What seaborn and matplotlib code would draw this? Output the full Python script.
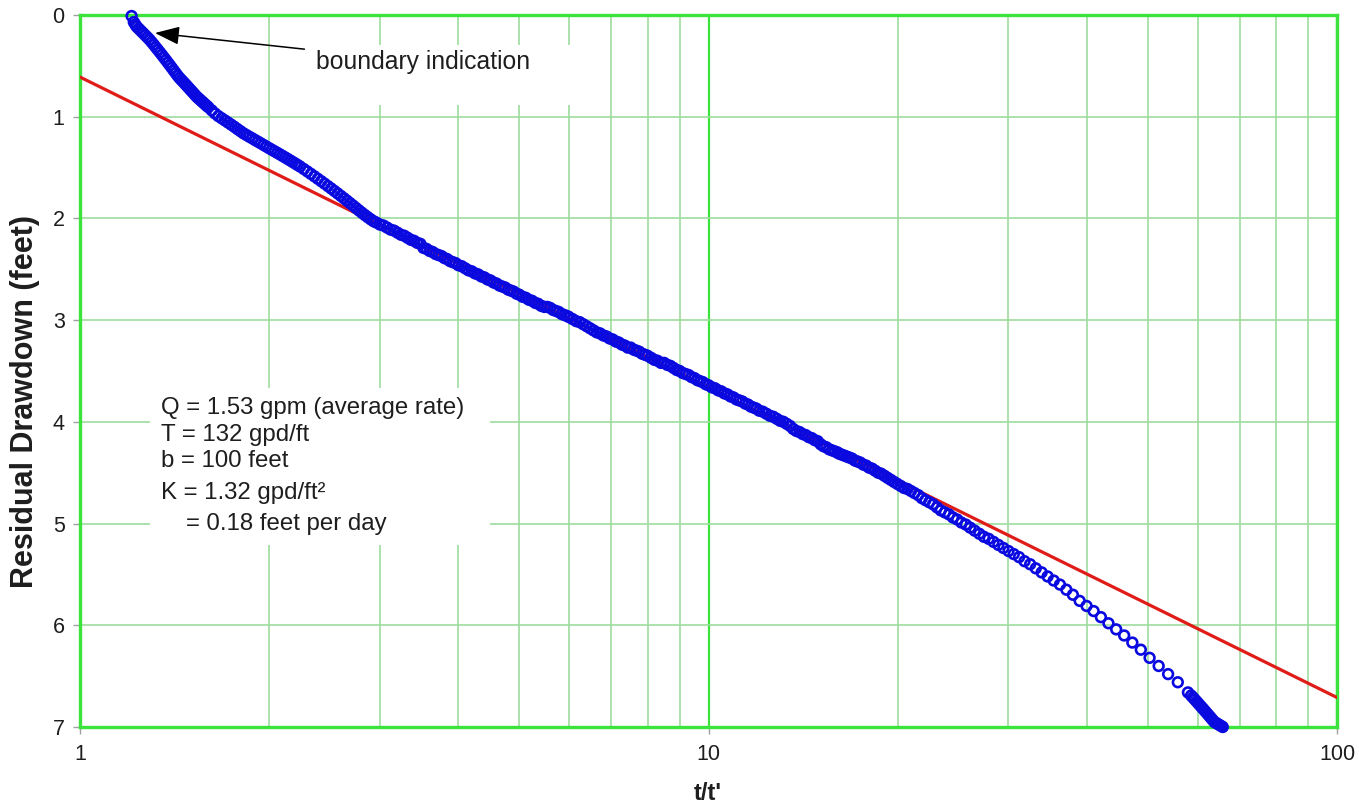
import matplotlib
matplotlib.use("Agg")
import matplotlib.pyplot as plt
import seaborn as sns
from matplotlib.ticker import LogLocator, NullFormatter
from matplotlib.patches import Rectangle

# ---------------- data ----------------
t_ratio = [
    1.208, 1.218, 1.225, 1.231, 1.24, 1.25, 1.26, 1.27, 1.28, 1.29,
    1.30, 1.31, 1.32, 1.33, 1.34, 1.35, 1.36, 1.37, 1.38, 1.39,
    1.40, 1.41, 1.42, 1.43, 1.44, 1.45, 1.46, 1.47, 1.48, 1.49,
    1.50, 1.51, 1.52, 1.53, 1.54, 1.55, 1.56, 1.57, 1.58, 1.59,
    1.60, 1.62, 1.64, 1.66, 1.68, 1.70, 1.72, 1.74, 1.76, 1.78,
    1.80, 1.82, 1.84, 1.86, 1.88, 1.90, 1.92, 1.94, 1.96, 1.98,
    2.00, 2.02, 2.04, 2.06, 2.08, 2.10, 2.12, 2.14, 2.16, 2.18,
    2.20, 2.22, 2.24, 2.27, 2.30, 2.33, 2.36, 2.39, 2.42, 2.45,
    2.48, 2.51, 2.54, 2.57, 2.60, 2.63, 2.66, 2.69, 2.72, 2.75,
    2.78, 2.81, 2.84, 2.87, 2.90, 2.93, 2.96, 3.00,
    3.04, 3.08, 3.12, 3.16, 3.20, 3.24, 3.28, 3.32, 3.36, 3.40,
    3.44, 3.48, 3.52, 3.56, 3.60, 3.64, 3.68, 3.72, 3.76, 3.80,
    3.84, 3.88, 3.92, 3.96, 4.00,
    4.05, 4.10, 4.15, 4.20, 4.25, 4.30, 4.35, 4.40, 4.45, 4.50,
    4.55, 4.60, 4.65, 4.70, 4.75, 4.80, 4.85, 4.90, 4.95, 5.00,
    5.06, 5.12, 5.18, 5.24, 5.30, 5.36, 5.42, 5.48, 5.54, 5.60,
    5.66, 5.72, 5.78, 5.84, 5.90, 5.96, 6.00,
    6.08, 6.16, 6.24, 6.32, 6.40, 6.48, 6.56, 6.64, 6.72, 6.80,
    6.88, 6.96, 7.04, 7.12, 7.20, 7.28, 7.36, 7.44, 7.52, 7.60,
    7.68, 7.76, 7.84, 7.92, 8.00,
    8.1, 8.2, 8.3, 8.4, 8.5, 8.6, 8.7, 8.8, 8.9, 9.0,
    9.1, 9.2, 9.3, 9.4, 9.5, 9.6, 9.7, 9.8, 9.9, 10.0,
    10.12, 10.24, 10.36, 10.48, 10.60, 10.72, 10.84, 10.96, 11.08, 11.20,
    11.32, 11.44, 11.56, 11.68, 11.80, 11.92, 12.04,
    12.2, 12.36, 12.52, 12.68, 12.84, 13.0, 13.16, 13.32, 13.48, 13.64,
    13.80, 13.96, 14.12, 14.28, 14.44, 14.60, 14.76, 14.92, 15.08, 15.24,
    15.40, 15.56, 15.72, 15.88, 16.04,
    16.10, 16.26, 16.42, 16.58, 16.74, 16.91, 17.09, 17.26, 17.44, 17.63,
    17.82, 18.01, 18.21, 18.41, 18.62, 18.83, 19.05, 19.27, 19.50, 19.73,
    19.97, 20.22, 20.47, 20.73, 21.00, 21.27, 21.56, 21.85, 22.14, 22.45,
    22.76, 23.09, 23.42, 23.77, 24.13, 24.49, 24.87, 25.26, 25.67, 26.08,
    26.52, 26.97, 27.43, 27.91, 28.41, 28.92, 29.46, 30.02, 30.60, 31.20,
    31.83, 32.49, 33.17, 33.89, 34.64, 35.42, 36.24, 37.10, 38.00, 38.95,
    39.95, 41.00, 42.11, 43.29, 44.53, 45.85, 47.25, 48.74, 50.33, 52.03,
    53.86, 55.81, 57.92,
    58.6, 59.0, 59.4, 59.8, 60.2, 60.6, 61.0, 61.4, 61.8, 62.2,
    62.6, 63.0, 63.4, 63.8, 64.2, 64.6, 65.0, 65.4, 65.8,
]
drawdown_ft = [
    0.01, 0.07, 0.095, 0.115, 0.134, 0.156, 0.177, 0.199, 0.22, 0.242,
    0.266, 0.291, 0.317, 0.342, 0.367, 0.392, 0.418, 0.443, 0.469, 0.494,
    0.52, 0.546, 0.571, 0.597, 0.619, 0.639, 0.658, 0.678, 0.698, 0.718,
    0.738, 0.757, 0.777, 0.797, 0.814, 0.829, 0.845, 0.86, 0.876, 0.891,
    0.906, 0.937, 0.968, 0.994, 1.015, 1.036, 1.057, 1.078, 1.099, 1.121,
    1.142, 1.163, 1.18, 1.197, 1.213, 1.23, 1.246, 1.262, 1.278, 1.294,
    1.31, 1.325, 1.34, 1.355, 1.37, 1.385, 1.40, 1.415, 1.43, 1.445,
    1.46, 1.475, 1.49, 1.514, 1.538, 1.562, 1.586, 1.61, 1.634, 1.658,
    1.682, 1.706, 1.73, 1.754, 1.778, 1.802, 1.826, 1.85, 1.874, 1.898,
    1.922, 1.945, 1.967, 1.988, 2.008, 2.027, 2.04, 2.06,
    2.07, 2.09, 2.11, 2.12, 2.14, 2.16, 2.17, 2.19, 2.21, 2.22,
    2.24, 2.25, 2.29, 2.30, 2.32, 2.33, 2.35, 2.36, 2.37, 2.39,
    2.40, 2.42, 2.43, 2.44, 2.46,
    2.47, 2.49, 2.51, 2.52, 2.54, 2.55, 2.57, 2.58, 2.60, 2.61,
    2.63, 2.64, 2.66, 2.67, 2.68, 2.70, 2.71, 2.72, 2.74, 2.75,
    2.77, 2.78, 2.80, 2.81, 2.83, 2.84, 2.86, 2.87, 2.87, 2.88,
    2.90, 2.91, 2.92, 2.94, 2.95, 2.96, 2.97,
    2.99, 3.01, 3.02, 3.04, 3.06, 3.08, 3.10, 3.12, 3.13, 3.15,
    3.16, 3.18, 3.19, 3.21, 3.22, 3.24, 3.25, 3.27, 3.27, 3.29,
    3.30, 3.31, 3.33, 3.34, 3.35,
    3.37, 3.39, 3.40, 3.42, 3.42, 3.44, 3.45, 3.47, 3.49, 3.50,
    3.52, 3.53, 3.54, 3.56, 3.57, 3.59, 3.60, 3.61, 3.63, 3.64,
    3.66, 3.67, 3.69, 3.70, 3.72, 3.73, 3.75, 3.76, 3.78, 3.79,
    3.80, 3.82, 3.83, 3.85, 3.86, 3.87, 3.89,
    3.90, 3.92, 3.94, 3.95, 3.97, 3.99, 4.00, 4.02, 4.04, 4.07,
    4.09, 4.10, 4.12, 4.13, 4.15, 4.16, 4.18, 4.19, 4.22, 4.24,
    4.25, 4.27, 4.28, 4.29, 4.30,
    4.31, 4.32, 4.33, 4.34, 4.35, 4.36, 4.38, 4.39, 4.40, 4.42,
    4.43, 4.45, 4.46, 4.48, 4.50, 4.51, 4.53, 4.55, 4.57, 4.59,
    4.61, 4.63, 4.65, 4.66, 4.68, 4.70, 4.72, 4.75, 4.77, 4.79,
    4.81, 4.84, 4.87, 4.89, 4.91, 4.94, 4.96, 4.99, 5.01, 5.04,
    5.07, 5.10, 5.13, 5.15, 5.18, 5.21, 5.24, 5.27, 5.30, 5.33,
    5.37, 5.40, 5.44, 5.48, 5.52, 5.56, 5.60, 5.65, 5.70, 5.76,
    5.81, 5.86, 5.92, 5.98, 6.04, 6.10, 6.17, 6.24, 6.32, 6.40,
    6.48, 6.56, 6.66,
    6.69, 6.71, 6.73, 6.75, 6.77, 6.79, 6.81, 6.83, 6.85, 6.87,
    6.89, 6.91, 6.93, 6.95, 6.96, 6.97, 6.98, 6.99, 7.00,
]

fit_t_ratio = [1, 100]
fit_drawdown = [0.61, 6.71]

x_ticks = [1, 10, 100]
x_tick_labels = ["1", "10", "100"]
y_ticks = [0, 1, 2, 3, 4, 5, 6, 7]
y_tick_labels = ["0", "1", "2", "3", "4", "5", "6", "7"]

x_label = "t/t'"
y_label = "Residual Drawdown (feet)"
param_lines = [
    "Q = 1.53 gpm (average rate)",
    "T = 132 gpd/ft",
    "b = 100 feet",
    "K = 1.32 gpd/ft\u00b2",
    "= 0.18 feet per day",
]
boundary_text = "boundary indication"
boundary_target = (1.316, 0.177)

# ---------------- style ----------------
sns.set_style("white")
plt.rcParams["font.family"] = ["Liberation Sans", "DejaVu Sans"]

W, H = 1359, 810
BLUE = "#0a0ae0"
RED = "#e01c18"
GREEN = "#3de33d"
GRID = "#9ddc9d"
TXT = "#1e1e1e"


def fx(px):
    return px / W


def fy(py):
    return 1 - py / H


fig = plt.figure(figsize=(W / 100, H / 100), dpi=100)
ax = fig.add_axes([fx(80), fy(727), (1337 - 80) / W, (727 - 15) / H])

sns.lineplot(x=fit_t_ratio, y=fit_drawdown, ax=ax, color=RED, linewidth=2.3,
             zorder=3, sort=False)
sns.scatterplot(x=t_ratio[::-1], y=drawdown_ft[::-1], ax=ax, marker="o",
                s=7.0 ** 2, facecolor="none", edgecolor=BLUE, linewidth=1.9,
                zorder=4, clip_on=False)

ax.set_xscale("log")
ax.set_xlim(1, 100)
ax.set_ylim(7, 0)
ax.set_xticks(x_ticks)
ax.set_xticklabels(x_tick_labels)
ax.xaxis.set_minor_locator(LogLocator(base=10, subs=[2, 3, 4, 5, 6, 7, 8, 9]))
ax.xaxis.set_minor_formatter(NullFormatter())
ax.set_yticks(y_ticks)
ax.set_yticklabels(y_tick_labels)
ax.set_xlabel("")
ax.set_ylabel("")

ax.set_axisbelow(True)
ax.grid(False)
ax.grid(which="major", axis="x", color=GREEN, linewidth=1.6)
ax.grid(which="minor", axis="x", color=GRID, linewidth=1.2)
ax.grid(which="major", axis="y", color=GRID, linewidth=1.2)

for sp in ax.spines.values():
    sp.set_visible(True)
    sp.set_color(GREEN)
    sp.set_linewidth(2.4)

ax.tick_params(axis="both", which="major", direction="out", length=5,
               width=1, color="#a0a0a0", labelsize=15.5, labelcolor=TXT)
ax.tick_params(axis="x", which="major", pad=7)
ax.tick_params(axis="y", which="major", pad=6)
ax.tick_params(axis="x", which="minor", length=0)
ax.tick_params(bottom=True, left=True)

# white backgrounds for text boxes (hide grid lines behind them)
def px_rect(x0, y0, x1, y1):
    ax_w, ax_h = 1337 - 80, 727 - 15
    return Rectangle(((x0 - 80) / ax_w, (727 - y1) / ax_h),
                     (x1 - x0) / ax_w, (y1 - y0) / ax_h,
                     transform=ax.transAxes, facecolor="white",
                     edgecolor="none", zorder=1)

ax.add_patch(px_rect(150, 388, 490, 545))
ax.add_patch(px_rect(300, 45, 595, 105))

# parameter text lines
line_pos = [(161, 414), (161, 441), (161, 467), (161, 499), (186, 530)]
for txt, (px, py) in zip(param_lines, line_pos):
    fig.text(fx(px), fy(py), txt, fontsize=17.3, color=TXT,
             ha="left", va="baseline")

ax.annotate(boundary_text, xy=boundary_target, xycoords="data",
            xytext=(fx(316), fy(62)), textcoords="figure fraction",
            ha="left", va="center", fontsize=17.8, color=TXT,
            arrowprops=dict(arrowstyle="-|>,head_length=0.75,head_width=0.28",
                            color="black", lw=1.1, shrinkA=6, shrinkB=0,
                            mutation_scale=20))

fig.text(fx(25), fy(402), y_label, rotation=90, ha="center", va="center",
         fontsize=22, fontweight="bold", color=TXT)
fig.text(fx(708), fy(794), x_label, ha="center", va="center",
         fontsize=17, fontweight="bold", color=TXT)

fig.savefig("out.png", dpi=100, facecolor="white")
